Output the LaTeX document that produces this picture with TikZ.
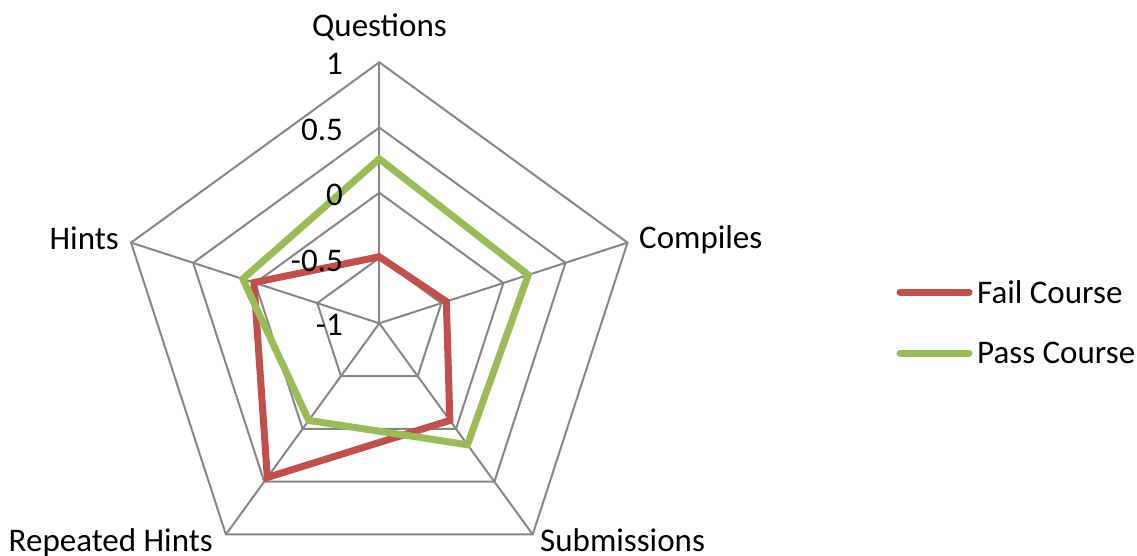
\documentclass[tikz,border=0pt]{standalone}
\usepackage{fontspec}
\setmainfont{Carlito}
\definecolor{gridgray}{HTML}{868686}
\definecolor{failred}{HTML}{C0504D}
\definecolor{passgreen}{HTML}{9BBB59}
\tikzset{
  grid line/.style={draw=gridgray, line width=2pt},
  series/.style={line width=7pt, line join=miter},
  lbl/.style={inner sep=0pt, font=\fontsize{33}{40}\selectfont},
  legline/.style={line width=7pt, line cap=round},
}
\begin{document}
\begin{tikzpicture}[x=1pt,y=1pt]
\useasboundingbox (0,0) rectangle (1137,-556);
\coordinate (C) at (379.3,-323.3);
\begin{scope}[shift={(C)}]
  % rings
  \foreach \k in {1,2,3,4}{
    \draw[grid line] (90:{\k*65.25}) -- (18:{\k*65.25}) -- (-54:{\k*65.25}) -- (-126:{\k*65.25}) -- (162:{\k*65.25}) -- cycle;
  }
  % spokes
  \foreach \a in {90,18,-54,-126,162}{
    \draw[grid line] (0,0) -- (\a:261);
  }
  % series
  \draw[series, failred] (90:{(1-0.49)*130.5}) -- (18:{(1-0.46)*130.5}) -- (-54:{(1-0.08)*130.5}) -- (-126:{(1+0.46)*130.5}) -- (162:{(1+0.01)*130.5}) -- cycle;
  \draw[series, passgreen] (90:{(1+0.26)*130.5}) -- (18:{(1+0.20)*130.5}) -- (-54:{(1+0.15)*130.5}) -- (-126:{(1-0.08)*130.5}) -- (162:{(1+0.10)*130.5}) -- cycle;
\end{scope}
% axis value labels
\node[lbl, anchor=east] (vm1) at (343,-325.3) {-1};
\node[lbl, anchor=east] (vm05) at (343,-260.5) {-0.5};
\node[lbl, anchor=east] (v0) at (343,-194.8) {0};
\node[lbl, anchor=east] (v05) at (343,-129.5) {0.5};
\node[lbl, anchor=east] (v1) at (343,-64.3) {1};
% category labels
\node[lbl, anchor=base] (questions) at (379.5,-37) {Questions};
\node[lbl, anchor=base west] (compiles) at (639,-248) {Compiles};
\node[lbl, anchor=base west] (submissions) at (540,-551) {Submissions};
\node[lbl, anchor=base east] (rhints) at (213,-551) {Repeated Hints};
\node[lbl, anchor=base east] (hints) at (119,-249) {Hints};
% legend
\coordinate (l1a) at (900,-292);
\coordinate (l1b) at (969,-292);
\coordinate (l2a) at (900,-353);
\coordinate (l2b) at (969,-353);
\draw[legline, failred] (l1a) -- (l1b);
\draw[legline, passgreen] (l2a) -- (l2b);
\node[lbl, anchor=base west] (fail) at (977,-303) {Fail Course};
\node[lbl, anchor=base west] (pass) at (977,-363) {Pass Course};
\end{tikzpicture}
\end{document}
